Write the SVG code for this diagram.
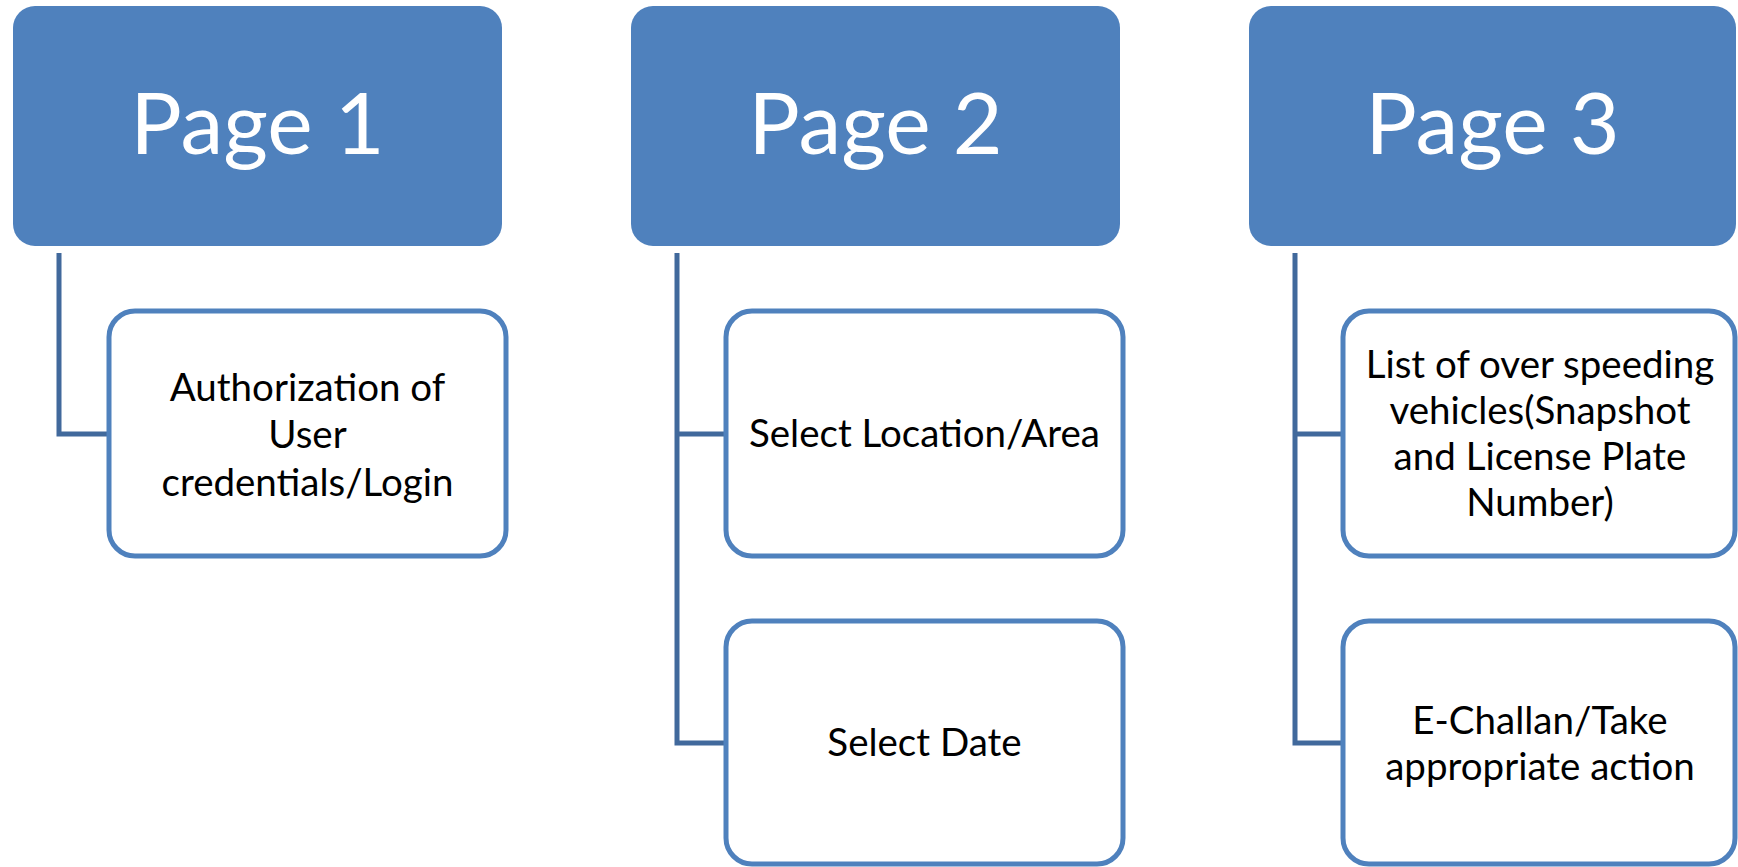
<svg xmlns="http://www.w3.org/2000/svg" width="1738" height="867" viewBox="0 0 1738 867">
<style>
.hdr{fill:#4f81bd;}
.hdrt{fill:#ffffff;font-family:Lato,"Open Sans",sans-serif;font-size:86px;text-anchor:middle;}
.child{fill:#ffffff;stroke:#4f81bd;stroke-width:5;}
.ct{fill:#000000;font-family:Lato,"Open Sans",sans-serif;font-size:38.5px;text-anchor:middle;}
.conn{fill:none;stroke:#41699c;stroke-width:5;}
</style>
<rect width="1738" height="867" fill="#ffffff"/>
<g id="connectors">
<path class="conn" d="M59 253 V434 H109"/>
<path class="conn" d="M677 253 V743 H726 M677 434 H726"/>
<path class="conn" d="M1295 253 V743 H1343 M1295 434 H1343"/>
</g>
<g id="page1">
<rect class="hdr" x="13" y="6" width="489" height="240" rx="22"/>
<text class="hdrt" x="257.5" y="154">Page 1</text>
</g>
<g id="page2">
<rect class="hdr" x="631" y="6" width="489" height="240" rx="22"/>
<text class="hdrt" x="875.5" y="154">Page 2</text>
</g>
<g id="page3">
<rect class="hdr" x="1249" y="6" width="487" height="240" rx="22"/>
<text class="hdrt" x="1492.5" y="154">Page 3</text>
</g>
<g id="auth">
<rect class="child" x="109" y="311" width="397" height="245" rx="26"/>
<text class="ct" x="307.5" y="401">Authorization of</text>
<text class="ct" x="307.5" y="448">User</text>
<text class="ct" x="307.5" y="496">credentials/Login</text>
</g>
<g id="location">
<rect class="child" x="726" y="311" width="397" height="245" rx="26"/>
<text class="ct" x="924.5" y="447">Select Location/Area</text>
</g>
<g id="date">
<rect class="child" x="726" y="621" width="397" height="243" rx="26"/>
<text class="ct" x="924.5" y="756">Select Date</text>
</g>
<g id="list">
<rect class="child" x="1343" y="311" width="392" height="245" rx="26"/>
<text class="ct" x="1540" y="378">List of over speeding</text>
<text class="ct" x="1540" y="424">vehicles(Snapshot</text>
<text class="ct" x="1540" y="470">and License Plate</text>
<text class="ct" x="1540" y="516">Number)</text>
</g>
<g id="challan">
<rect class="child" x="1343" y="621" width="392" height="243" rx="26"/>
<text class="ct" x="1540" y="734">E-Challan/Take</text>
<text class="ct" x="1540" y="780">appropriate action</text>
</g>
</svg>
